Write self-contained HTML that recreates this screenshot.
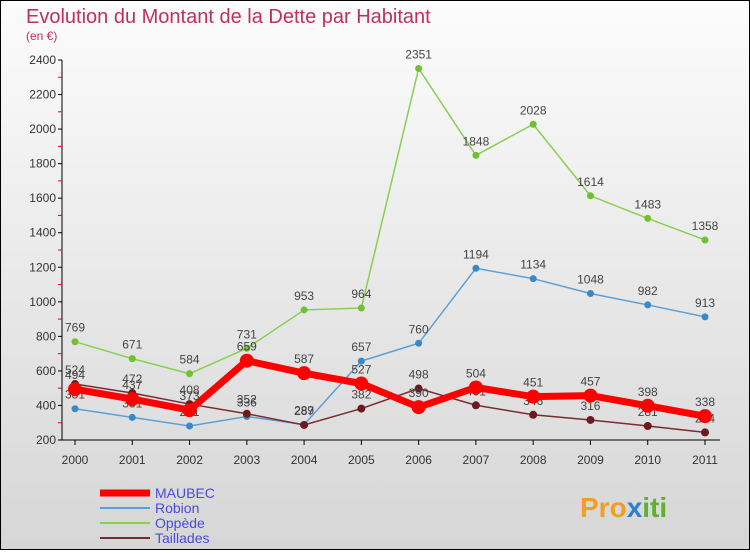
<!DOCTYPE html>
<html><head><meta charset="utf-8"><style>
body{margin:0;width:750px;height:550px;overflow:hidden;font-family:"Liberation Sans",sans-serif}
svg text{font-family:"Liberation Sans",sans-serif}
</style></head><body>
<svg width="750" height="550" xmlns="http://www.w3.org/2000/svg">
<defs><linearGradient id="bg" x1="0" y1="0" x2="0" y2="1"><stop offset="0" stop-color="#fcfcfc"/><stop offset="1" stop-color="#d6d6d6"/></linearGradient></defs>
<rect x="0.5" y="0.5" width="749" height="549" fill="url(#bg)" stroke="#000"/>
<text x="26" y="23" font-size="20" fill="#c0305a">Evolution du Montant de la Dette par Habitant</text>
<text x="26" y="40" font-size="12" fill="#c0305a">(en €)</text>
<g id="axes"></g>
<g id="series"></g>
<g id="legend"></g>
<text x="580" y="517" font-size="28" font-weight="bold" fill="#f0a020">Pro<tspan fill="#2a80d0">x</tspan><tspan fill="#60b030">iti</tspan></text>
</svg>
<script>
const years=[2000,2001,2002,2003,2004,2005,2006,2007,2008,2009,2010,2011];
const yTicks=[200,400,600,800,1000,1200,1400,1600,1800,2000,2200,2400];
const maubec=[494,437,373,659,587,527,390,504,451,457,398,338];
const robion=[381,331,281,336,289,657,760,1194,1134,1048,982,913];
const oppede=[769,671,584,731,953,964,2351,1848,2028,1614,1483,1358];
const taillades=[524,472,408,352,287,382,498,401,346,316,281,244];
const NS='http://www.w3.org/2000/svg';
const X=i=>75+i*(630/11);
const Y=v=>440-(v-200)*(380/2200);
function mk(t,a,p){const e=document.createElementNS(NS,t);for(const k in a)e.setAttribute(k,a[k]);p.appendChild(e);return e;}
const ax=document.getElementById('axes');
const yl=mk('line',{x1:62,y1:60,x2:62,y2:440,stroke:'#000'},ax);


const xl=mk('line',{x1:62,y1:440,x2:720,y2:440,stroke:'#000'},ax);


yTicks.forEach((v,i)=>{
  mk('line',{x1:58,y1:Y(v),x2:62,y2:Y(v),stroke:'#000'},ax);
  if(i<yTicks.length-1)mk('line',{x1:58,y1:Y(v+100),x2:62,y2:Y(v+100),stroke:'#e00'},ax);
  const t=mk('text',{x:56,y:Y(v)+4,'font-size':12,'text-anchor':'end',fill:'#333'},ax);
  t.textContent=v;
  
  
});
years.forEach((y,i)=>{
  mk('line',{x1:X(i),y1:440,x2:X(i),y2:445,stroke:'#000'},ax);
  const t=mk('text',{x:X(i),y:464,'font-size':12,'text-anchor':'middle',fill:'#333'},ax);
  t.textContent=y;
  
  
});
const sg=document.getElementById('series');
const defs=[
 {n:'oppede',d:oppede,c:'#88d050',w:1.5,r:3.5,f:'#70c030'},
 {n:'robion',d:robion,c:'#5aa0d8',w:1.5,r:3.5,f:'#3a88c8'},
 {n:'taillades',d:taillades,c:'#7a2a30',w:1.5,r:4,f:'#6a1a20'},
 {n:'maubec',d:maubec,c:'#ff0000',w:7,r:7,f:'#ff0000'}];
defs.forEach(s=>{
  const g=mk('g',{},sg);
  
  
  const pl=mk('polyline',{points:s.d.map((v,i)=>X(i)+','+Y(v)).join(' '),fill:'none',stroke:s.c,'stroke-width':s.w},g);
  
  
  s.d.forEach((v,i)=>{
    const c=mk('circle',{cx:X(i),cy:Y(v),r:s.r,fill:s.f},g);
    
    
    const t=mk('text',{x:X(i),y:Y(v)-10,'font-size':12,'text-anchor':'middle',fill:'#444'},g);
    t.textContent=v;
    
    
  });
});
const lg=document.getElementById('legend');
[['MAUBEC','#ff0000',7],['Robion','#5aa0d8',2],['Oppède','#88d050',2],['Taillades','#7a2a30',2]].forEach((e,i)=>{
  const y=493+i*15;
  const l=mk('line',{x1:100,y1:y,x2:150,y2:y,stroke:e[1],'stroke-width':e[2]},lg);
  
  
  const t=mk('text',{x:155,y:y+5,'font-size':14,fill:'#4a4ae0'},lg);
  t.textContent=e[0];
  
  
});
</script>
</body></html>
